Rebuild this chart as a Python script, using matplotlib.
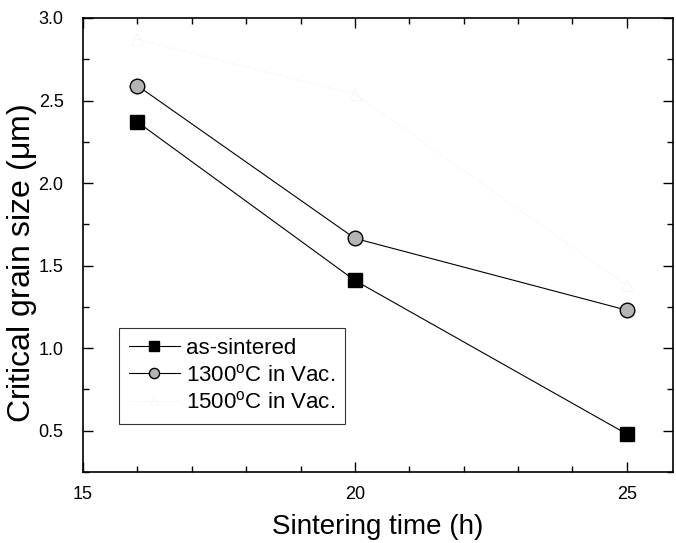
import matplotlib
matplotlib.use('Agg')
import matplotlib.pyplot as plt
from matplotlib.ticker import MultipleLocator

plt.rcParams['font.family'] = ['Liberation Sans', 'DejaVu Sans']
plt.rcParams['mathtext.fontset'] = 'custom'
plt.rcParams['mathtext.rm'] = 'Liberation Sans'

# data
time_h = [16, 20, 25]
as_sintered = [2.37, 1.41, 0.48]
vac_1300 = [2.59, 1.665, 1.23]
vac_1500 = [2.87, 2.54, 1.38]

labels = ['as-sintered',
          r'1300$^\mathregular{o}$C in Vac.',
          r'1500$^\mathregular{o}$C in Vac.']

fig = plt.figure(figsize=(6.76, 5.43), dpi=100)
ax = fig.add_axes([0.1228, 0.1308, 0.8728, 0.8361])

ax.plot(time_h, as_sintered, color='black', linewidth=0.8, marker='s',
        markersize=10, markerfacecolor='black', markeredgecolor='black',
        label=labels[0])
ax.plot(time_h, vac_1300, color='black', linewidth=0.8, marker='o',
        markersize=10.5, markerfacecolor='#b4b4b4', markeredgecolor='black',
        markeredgewidth=1.0, label=labels[1])
# third series is barely visible in the scan
ax.plot(time_h, vac_1500, color='#ebebeb', linewidth=0.6, linestyle=':',
        marker='^', markersize=9, markerfacecolor='none',
        markeredgecolor='#f4f4f4', markeredgewidth=0.5, label=labels[2])

ax.set_xlim(15, 25.85)
ax.set_ylim(0.25, 3.0)
ax.xaxis.set_major_locator(MultipleLocator(5))
ax.xaxis.set_minor_locator(MultipleLocator(1))
ax.yaxis.set_major_locator(MultipleLocator(0.5))
ax.yaxis.set_minor_locator(MultipleLocator(0.25))
ax.tick_params(which='both', direction='in', top=True, right=True,
               labelsize=13, width=1.0)
ax.tick_params(which='major', length=7)
ax.tick_params(axis='y', which='major', pad=14)
ax.tick_params(axis='x', which='major', pad=10)
ax.tick_params(which='minor', length=4)
for sp in ax.spines.values():
    sp.set_linewidth(1.2)

ax.set_xlabel('Sintering time (h)', fontsize=20, labelpad=8)
ax.set_ylabel(r'Critical grain size ($\mathregular{\mu}$m)', fontsize=23)
ax.yaxis.set_label_coords(-0.075, 0.46)

leg = ax.legend(loc='lower left', bbox_to_anchor=(0.042, 0.082), fontsize=16,
                frameon=True, fancybox=False, edgecolor='black',
                handlelength=2.3, handletextpad=0.25, borderpad=0.45,
                labelspacing=0.25, markerscale=0.7)
leg.get_frame().set_linewidth(0.8)

fig.savefig('out.png', dpi=100)
